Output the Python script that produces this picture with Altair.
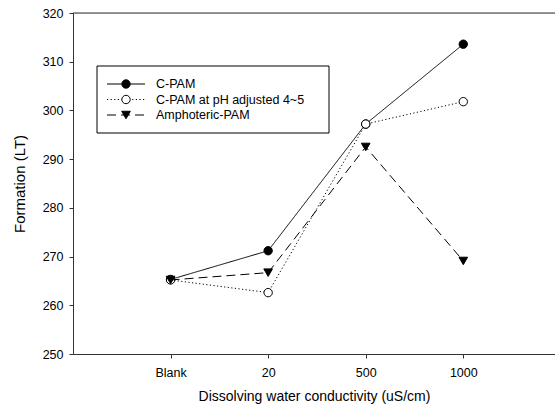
import altair as alt
import pandas as pd

# ---- data ----
x_labels = ["Blank", "20", "500", "1000"]
series_names = ["C-PAM", "C-PAM at pH adjusted 4~5", "Amphoteric-PAM"]
cpam = [265.3, 271.2, 297.2, 313.6]
cpam_ph = [265.2, 262.6, 297.2, 301.8]
ampho = [265.2, 266.7, 292.5, 269.1]
y_ticks = [250, 260, 270, 280, 290, 300, 310, 320]

values = [cpam, cpam_ph, ampho]
styles = {
    "C-PAM": dict(dash=[1, 0], shape="circle", fill="black", size=70),
    "C-PAM at pH adjusted 4~5": dict(dash=[1.2, 2.4], shape="circle", fill="white", size=70),
    "Amphoteric-PAM": dict(dash=[9, 5], shape="triangle-down", fill="black", size=75),
}

rows = []
for name, vals in zip(series_names, values):
    for i, v in enumerate(vals):
        rows.append({"series": name, "idx": i, "label": x_labels[i], "value": v})
df = pd.DataFrame(rows)

FONT = "Liberation Sans"
W, H = 482, 341
label_expr = "[" + ",".join(f"'{l}'" for l in x_labels) + "][datum.value]"

xscale = alt.Scale(domain=[-1, 3.94], nice=False, zero=False)
yscale = alt.Scale(domain=[250, 320], nice=False, zero=False)

x_axis = alt.Axis(
    values=list(range(len(x_labels))), labelExpr=label_expr, title="Dissolving water conductivity (uS/cm)",
    grid=False, tickSize=4, labelPadding=8, titlePadding=11, labelFontSize=12.5, titleFontSize=14,
    labelFont=FONT, titleFont=FONT, labelColor="black", titleColor="black", domainColor="#333",
    tickColor="#333", titleFontWeight="normal",
)
y_axis = alt.Axis(
    values=y_ticks, title="Formation (LT)", grid=False, tickSize=4, labelPadding=6, titlePadding=15,
    labelFontSize=12.5, titleFontSize=15, labelFont=FONT, titleFont=FONT, labelColor="black",
    titleColor="black", domainColor="#333", tickColor="#333", titleFontWeight="normal",
)

layers = []
for k, name in enumerate(series_names):
    st = styles[name]
    sub = df[df.series == name]
    base = alt.Chart(sub)
    line = base.mark_line(color="black", strokeWidth=1, strokeDash=st["dash"]).encode(
        x=alt.X("idx:Q", scale=xscale, axis=x_axis),
        y=alt.Y("value:Q", scale=yscale, axis=y_axis),
    )
    pts = base.mark_point(shape=st["shape"], filled=True, fill=st["fill"], stroke="black",
                          strokeWidth=1, size=st["size"], opacity=1).encode(
        x=alt.X("idx:Q", scale=xscale, axis=x_axis),
        y=alt.Y("value:Q", scale=yscale, axis=y_axis),
    )
    layers += [line, pts]

# top spine
top = alt.Chart(pd.DataFrame({"a": [0]})).mark_rule(color="#333", strokeWidth=1).encode(
    x=alt.value(0), x2=alt.value(W), y=alt.value(0)
)
layers.append(top)

# ---- manual legend ----
LX0, LX1, LY0, LY1 = 24, 256, 53, 120
box = alt.Chart(pd.DataFrame({"a": [0]})).mark_rect(fill="white", stroke="black", strokeWidth=1).encode(
    x=alt.value(LX0), x2=alt.value(LX1), y=alt.value(LY0), y2=alt.value(LY1)
)
layers.append(box)
for k, name in enumerate(series_names):
    st = styles[name]
    yy = 71 + k * 15.5
    d = pd.DataFrame({"name": [name]})
    layers.append(alt.Chart(d).mark_rule(color="black", strokeWidth=1, strokeDash=st["dash"]).encode(
        x=alt.value(34), x2=alt.value(72), y=alt.value(yy)))
    layers.append(alt.Chart(d).mark_point(shape=st["shape"], filled=True, fill=st["fill"], stroke="black",
                                          strokeWidth=1, size=st["size"], opacity=1).encode(
        x=alt.value(53), y=alt.value(yy)))
    layers.append(alt.Chart(d).mark_text(align="left", baseline="middle", font=FONT, fontSize=12.5,
                                         color="black").encode(
        x=alt.value(83), y=alt.value(yy), text="name:N"))

chart = alt.layer(*layers).properties(
    width=W, height=H,
    padding={"left": 73, "top": 13, "right": 0, "bottom": 63},
    autosize=alt.AutoSizeParams(type="none"),
).configure_view(stroke=None).configure(background="white")

chart.save("out.html", embed_options={"renderer": "svg", "actions": False})
